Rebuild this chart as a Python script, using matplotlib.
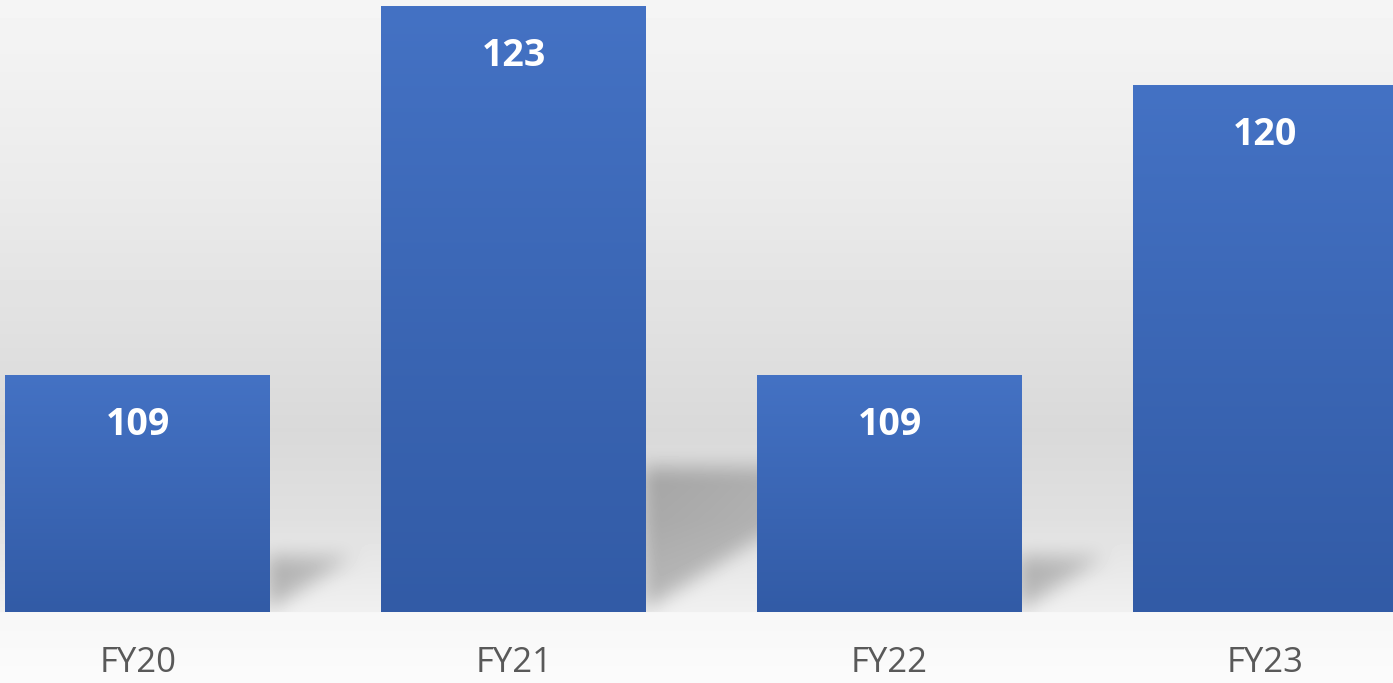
import numpy as np
import matplotlib
matplotlib.use("Agg")
import matplotlib.pyplot as plt
from matplotlib.colors import LinearSegmentedColormap

# 데이터
categories = ["FY20", "FY21", "FY22", "FY23"]
values = [109, 123, 109, 120]

W, H, DPI = 1393, 683, 100
fig = plt.figure(figsize=(W / DPI, H / DPI), dpi=DPI)

# 배경 (벽 + 바닥 그라데이션)
bg = fig.add_axes([0, 0, 1, 1], zorder=0)
bg.set_xlim(0, W)
bg.set_ylim(H, 0)
bg.axis("off")

ax = fig.add_axes([0, 1 - 612 / H, 1, 612 / H], zorder=1)
ax.patch.set_alpha(0)
x = np.arange(len(categories))
ax.set_xlim(-0.367, 3.34)
ax.set_ylim(100, 123.24)
for s in ax.spines.values():
    s.set_visible(False)
ax.set_yticks([])
ax.set_xticks([])

bars = ax.bar(x, values, width=0.705, color="none", edgecolor="none", zorder=2)

# 배경 이미지 만들기
yy, xx = np.mgrid[0:H, 0:W].astype(float)
base_y = 612.0
wall = np.interp(yy, [0, 200, 430, 520, 600, 612], [245, 234, 217, 224, 238, 240])
floor = np.interp(yy, [612, 683], [247, 251])
img = np.where(yy < base_y, wall, floor)

# 그림자 마스크 (막대 위치는 축 변환으로 구함)
mask = np.zeros((H, W))
fig.canvas.draw()
for b in bars:
    (x0, y0), (x1, y1) = ax.transData.transform([(b.get_x(), 100), (b.get_x() + b.get_width(), b.get_height())])
    px_r = x1
    h = abs(y1 - y0)
    sh_top = base_y - 0.24 * h
    L = 0.45 * h
    lower = base_y - 4 - 0.62 * (xx - px_r)
    m = (xx > px_r - 5) & (xx < px_r + L) & (yy > sh_top) & (yy < lower)
    fade = np.clip(1 - (xx - px_r) / L, 0, 1) ** 0.3
    mask = np.maximum(mask, m * fade)


def blur(a, k):
    ker = np.ones(k) / k
    a = np.apply_along_axis(lambda r: np.convolve(r, ker, mode="same"), 1, a)
    a = np.apply_along_axis(lambda c: np.convolve(c, ker, mode="same"), 0, a)
    return a


mask = blur(blur(mask, 25), 17)
mask[yy >= base_y] = 0
img = img - mask * 55
bg.imshow(img, cmap="gray", vmin=0, vmax=255, extent=(0, W, H, 0), aspect="auto",
          interpolation="bilinear")

# 막대 그라데이션
cmap = LinearSegmentedColormap.from_list("barg", ["#325BA6", "#4472C4"])
grad = np.linspace(0, 1, 256).reshape(-1, 1)
for b, v in zip(bars, values):
    xl = b.get_x()
    xr = xl + b.get_width()
    im = ax.imshow(grad, cmap=cmap, origin="lower", aspect="auto",
                   extent=(xl, xr, 100, v), zorder=2)
    im.set_clip_path(b)
    ax.text(b.get_x() + b.get_width() / 2, v - 1.9, str(v), ha="center", va="center",
            color="white", fontsize=27, fontweight="bold", family="Open Sans", zorder=3)

ax.set_xlim(-0.367, 3.34)
ax.set_ylim(100, 123.24)

for xi, c in zip(x, categories):
    ax.text(xi, 100 - 51 / 26.33, c, ha="center", va="center", color="#595959",
            fontsize=25, family="Open Sans", zorder=3)

fig.savefig("out.png", dpi=DPI)
